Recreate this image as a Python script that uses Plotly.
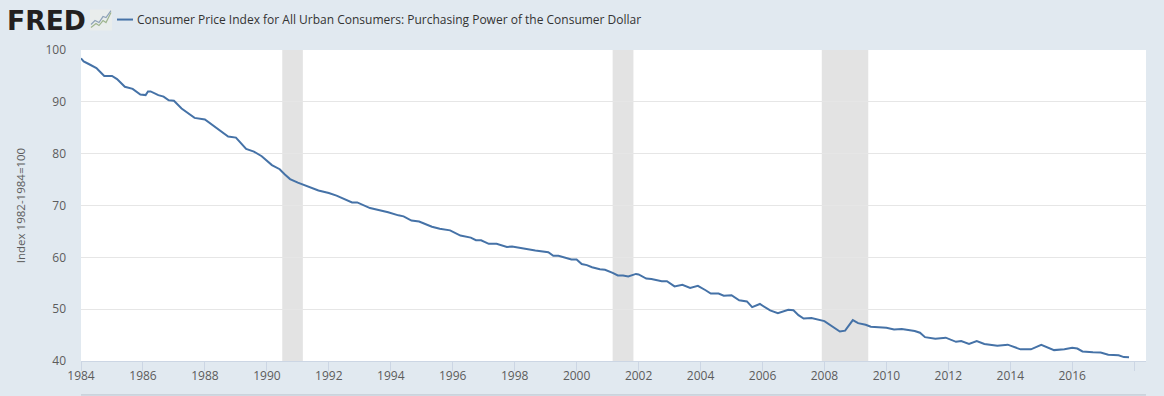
import plotly.graph_objects as go

series_name = "Consumer Price Index for All Urban Consumers: Purchasing Power of the Consumer Dollar"
y_title = "Index 1982-1984=100"

dates = [
    "1984-01","1984-02","1984-04","1984-07","1984-08","1984-10","1985-01","1985-03","1985-06","1985-09","1985-12",
    "1986-02","1986-03","1986-04","1986-07","1986-09","1986-11","1987-01","1987-04","1987-07","1987-09","1988-01",
    "1988-05","1988-10","1989-01","1989-05","1989-08","1989-11","1990-03","1990-06","1990-08","1990-10","1991-01",
    "1991-05","1991-09","1992-01","1992-04","1992-10","1992-12","1993-05","1993-08","1993-12","1994-04","1994-06",
    "1994-09","1994-12","1995-05","1995-08","1995-12","1996-04","1996-08","1996-10","1996-12","1997-03","1997-06",
    "1997-10","1997-12","1998-05","1998-09","1999-02","1999-04","1999-06","1999-11","2000-01","2000-03","2000-05",
    "2000-07","2000-10","2000-12","2001-03","2001-05","2001-07","2001-09","2001-12","2002-01","2002-04","2002-06",
    "2002-10","2002-12","2003-03","2003-06","2003-09","2003-12","2004-03","2004-05","2004-08","2004-10","2005-01",
    "2005-04","2005-07","2005-09","2005-12","2006-04","2006-07","2006-11","2007-01","2007-03","2007-05","2007-08",
    "2008-01","2008-04","2008-07","2008-09","2008-12","2009-02","2009-05","2009-07","2009-10","2010-01","2010-04",
    "2010-07","2010-12","2011-02","2011-04","2011-08","2011-12","2012-04","2012-06","2012-09","2012-12","2013-03",
    "2013-08","2013-12","2014-05","2014-09","2015-01","2015-06","2015-10","2016-01","2016-03","2016-05","2016-09",
    "2016-12","2017-03","2017-07","2017-09","2017-11",
]
values = [
    98.4,97.8,97.3,96.5,96.0,95.0,95.0,94.4,92.9,92.5,91.4,
    91.3,92.0,92.0,91.3,91.0,90.3,90.2,88.7,87.7,86.9,86.6,
    85.2,83.3,83.1,80.9,80.4,79.5,77.8,77.0,76.0,75.1,74.4,
    73.7,72.9,72.4,71.9,70.6,70.6,69.5,69.2,68.7,68.1,67.9,
    67.1,66.9,65.9,65.5,65.2,64.2,63.8,63.3,63.3,62.6,62.6,
    62.0,62.1,61.6,61.3,61.0,60.3,60.3,59.6,59.6,58.7,58.5,
    58.1,57.7,57.6,57.0,56.5,56.5,56.3,56.8,56.7,55.9,55.8,
    55.4,55.4,54.4,54.7,54.1,54.5,53.65,53.0,53.0,52.6,52.7,
    51.7,51.5,50.4,51.0,49.75,49.2,49.9,49.8,48.85,48.2,48.3,
    47.7,46.7,45.7,45.85,47.9,47.3,47.0,46.6,46.5,46.4,46.1,
    46.15,45.8,45.45,44.6,44.3,44.5,43.7,43.85,43.3,43.85,43.3,
    42.95,43.15,42.25,42.25,43.1,42.1,42.25,42.55,42.4,41.85,41.7,
    41.65,41.2,41.1,40.75,40.7,
]

recession_starts = ["1990-07-01", "2001-03-01", "2007-12-01"]
recession_ends = ["1991-03-01", "2001-11-01", "2009-06-01"]

y_ticks = [40, 50, 60, 70, 80, 90, 100]
x_tick_years = [str(y) for y in range(1984, 2018, 2)]
x_tick_vals = [f"{y}-01-01" for y in x_tick_years] + ["2018-01-01"]
x_tick_text = x_tick_years + [""]

W, H = 1164, 396
BG = "#e1e9f0"
TEXT = "#5c5c5c"
L, R, T, B = 81, 1146, 49.5, 361


def px(x):
    return (x - L) / (R - L)


def py(y):
    return (B - y) / (B - T)


fig = go.Figure(
    go.Scatter(
        x=dates, y=values, mode="lines", name=series_name, showlegend=False,
        line=dict(color="#4572a7", width=2),
    )
)

shapes = [
    dict(type="rect", xref="x", yref="paper", x0=a, x1=b, y0=0, y1=1,
         fillcolor="#e3e3e3", line_width=0, layer="below")
    for a, b in zip(recession_starts, recession_ends)
]
paper = dict(xref="paper", yref="paper")
# legend key, navigator edge
shapes.append(dict(type="line", x0=px(117), x1=px(133), y0=py(19), y1=py(19),
                   line=dict(color="#4572a7", width=2), **paper))
shapes.append(dict(type="line", x0=px(81), x1=px(1146), y0=py(395), y1=py(395),
                   line=dict(color="#b9c2cd", width=1), **paper))
# small logo thumbnail
shapes.append(dict(type="rect", x0=px(90), x1=px(112), y0=py(9), y1=py(30),
                   fillcolor="#e9edec", line_width=0, **paper))
for color, pts in (
    ("#9fb58f", [(91, 27), (96, 23), (99, 25), (103, 20), (106, 22), (111, 12)]),
    ("#8fa3b8", [(91, 24), (95, 20), (99, 22), (103, 16), (106, 17), (111, 10)]),
):
    d = "M" + " L".join(f"{px(a):.5f},{py(b):.5f}" for a, b in pts)
    shapes.append(dict(type="path", path=d, line=dict(color=color, width=1.2), **paper))

annotations = [
    dict(x=px(135), y=py(19), text=series_name, showarrow=False, xanchor="left", yanchor="middle",
         font=dict(family="Open Sans", size=12, color="#333333"), **paper),
    dict(x=px(5), y=py(19.5), text="<b>FRED</b>", showarrow=False, xanchor="left", yanchor="middle",
         font=dict(family="DejaVu Sans", size=26.6, color="#231f20"), **paper),
]

fig.update_layout(
    width=W, height=H,
    margin=dict(l=L, r=W - R, t=T, b=H - B, autoexpand=False),
    paper_bgcolor=BG, plot_bgcolor="#ffffff",
    font=dict(family="Open Sans", size=12, color=TEXT),
    shapes=shapes, annotations=annotations,
    xaxis=dict(
        type="date", range=["1984-01-01", "2018-05-20"],
        tickmode="array", tickvals=x_tick_vals, ticktext=x_tick_text,
        ticks="outside", ticklen=9, tickwidth=1, tickcolor="#ccd6e4",
        showgrid=False, showline=True, linecolor="#ccd6e4", linewidth=1,
        zeroline=False, ticklabelstandoff=-5, tickfont=dict(size=12, color=TEXT),
    ),
    yaxis=dict(
        range=[40, 100], tickmode="array", tickvals=y_ticks,
        ticks="", showgrid=True, gridcolor="#e6e6e6", gridwidth=1,
        showline=False, zeroline=False, ticklabelstandoff=14,
        tickfont=dict(size=12, color=TEXT),
        title=dict(text=y_title, font=dict(size=11.5, color=TEXT), standoff=17),
    ),
)

fig.write_html(
    "out.html",
    config={"displayModeBar": False},
    post_script="document.body.style.margin='0';document.body.style.background='%s';" % BG,
)
